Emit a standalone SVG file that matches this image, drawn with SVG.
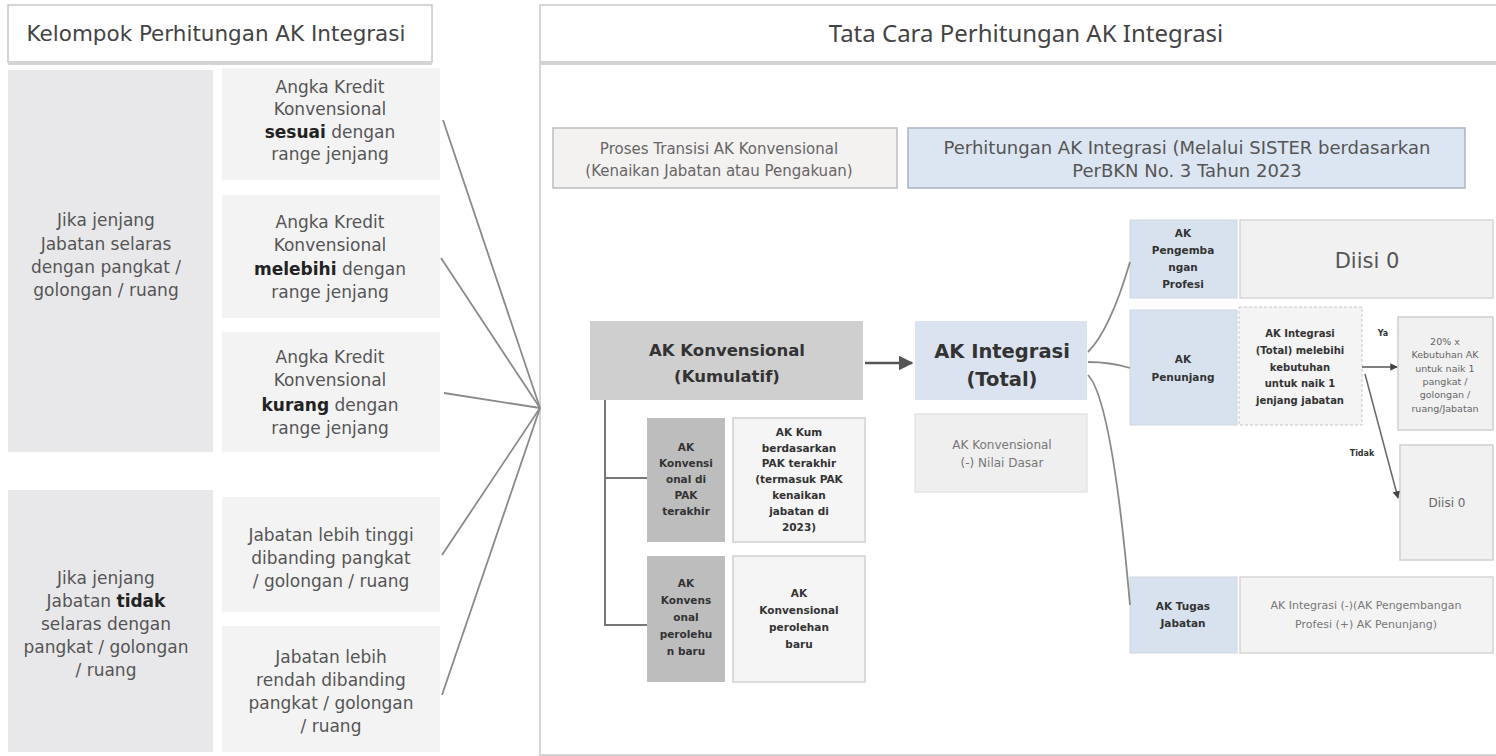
<svg xmlns="http://www.w3.org/2000/svg" width="1496" height="756" viewBox="0 0 1496 756">
<defs>
<style>
text{font-family:"DejaVu Sans","Liberation Sans",sans-serif;text-anchor:middle;fill:#555}
.hdr{font-size:21.5px;fill:#444}
.hdr2{font-family:"Noto Sans","Liberation Sans",sans-serif;font-size:24px;fill:#444}
.l1{font-size:17px;fill:#555}
.l2{font-size:17px;fill:#555}
.b{font-weight:bold;fill:#222}
.sm{font-size:10.5px;font-weight:bold;fill:#333}
.xs{font-size:9.5px;fill:#666}
.con{stroke:#8a8a8a;stroke-width:1.8;fill:none}
.con2{stroke:#777;stroke-width:2;fill:none}
</style>
<marker id="ah" viewBox="0 0 10 10" refX="9" refY="5" markerWidth="6" markerHeight="6" orient="auto"><path d="M0,0 L10,5 L0,10 z" fill="#555"/></marker>
<marker id="ahs" viewBox="0 0 10 10" refX="9" refY="5" markerWidth="5" markerHeight="5" orient="auto"><path d="M0,0 L10,5 L0,10 z" fill="#444"/></marker>
</defs>
<rect width="1496" height="756" fill="#ffffff"/>

<g id="hdr-left">
<rect x="8" y="5" width="424" height="57" fill="#fff" stroke="#c8c8c8" stroke-width="1.5"/>
<rect x="8" y="61" width="424" height="4" fill="#d4d4d4"/>
<text class="hdr" x="216" y="41">Kelompok Perhitungan AK Integrasi</text>
</g>

<g id="grp-selaras">
<rect x="8" y="70" width="205" height="382" fill="#e8e8ea"/>
<text class="l1" x="106" y="226">Jika jenjang</text>
<text class="l1" x="106" y="250">Jabatan selaras</text>
<text class="l1" x="106" y="273">dengan pangkat /</text>
<text class="l1" x="106" y="296">golongan / ruang</text>
</g>
<g id="grp-tidak">
<rect x="8" y="490" width="205" height="262" fill="#e8e8ea"/>
<text class="l1" x="106" y="584">Jika jenjang</text>
<text class="l1" x="106" y="607">Jabatan <tspan class="b">tidak</tspan></text>
<text class="l1" x="106" y="630">selaras dengan</text>
<text class="l1" x="106" y="653">pangkat / golongan</text>
<text class="l1" x="106" y="676">/ ruang</text>
</g>

<g id="c-sesuai">
<rect x="222" y="68" width="218" height="112" fill="#f3f3f3"/>
<text class="l2" x="330" y="93">Angka Kredit</text>
<text class="l2" x="330" y="115">Konvensional</text>
<text class="l2" x="330" y="138"><tspan class="b">sesuai</tspan> dengan</text>
<text class="l2" x="330" y="160">range jenjang</text>
</g>
<g id="c-melebihi">
<rect x="222" y="195" width="218" height="123" fill="#f3f3f3"/>
<text class="l2" x="330" y="228">Angka Kredit</text>
<text class="l2" x="330" y="251">Konvensional</text>
<text class="l2" x="330" y="275"><tspan class="b">melebihi</tspan> dengan</text>
<text class="l2" x="330" y="298">range jenjang</text>
</g>
<g id="c-kurang">
<rect x="222" y="332" width="218" height="120" fill="#f3f3f3"/>
<text class="l2" x="330" y="363">Angka Kredit</text>
<text class="l2" x="330" y="386">Konvensional</text>
<text class="l2" x="330" y="411"><tspan class="b">kurang</tspan> dengan</text>
<text class="l2" x="330" y="434">range jenjang</text>
</g>
<g id="c-tinggi">
<rect x="222" y="497" width="218" height="115" fill="#f3f3f3"/>
<text class="l2" x="331" y="541">Jabatan lebih tinggi</text>
<text class="l2" x="331" y="564">dibanding pangkat</text>
<text class="l2" x="331" y="587">/ golongan / ruang</text>
</g>
<g id="c-rendah">
<rect x="222" y="626" width="218" height="126" fill="#f3f3f3"/>
<text class="l2" x="331" y="663">Jabatan lebih</text>
<text class="l2" x="331" y="686">rendah dibanding</text>
<text class="l2" x="331" y="709">pangkat / golongan</text>
<text class="l2" x="331" y="732">/ ruang</text>
</g>

<g id="panel-right">
<rect x="540" y="5" width="960" height="750" fill="#fff" stroke="#c8c8c8" stroke-width="1.5"/>
<rect x="541" y="61" width="955" height="4" fill="#d4d4d4"/>
<text class="hdr2" x="1026" y="42">Tata Cara Perhitungan AK Integrasi</text>
</g>

<g id="transisi">
<rect x="553" y="128" width="344" height="60" fill="#f4f1f1" stroke="#bdbdbd" stroke-width="1.5"/>
<text x="719" y="154" style="font-size:15px;fill:#666">Proses Transisi AK Konvensional</text>
<text x="719" y="176" style="font-size:15px;fill:#666">(Kenaikan Jabatan atau Pengakuan)</text>
</g>
<g id="perhitungan">
<rect x="908" y="128" width="557" height="60" fill="#dce6f2" stroke="#aab4c0" stroke-width="1.5"/>
<text x="1187" y="154" style="font-size:18px;fill:#555">Perhitungan AK Integrasi (Melalui SISTER berdasarkan</text>
<text x="1187" y="177" style="font-size:18px;fill:#555">PerBKN No. 3 Tahun 2023</text>
</g>

<g id="ak-konv">
<rect x="590" y="321" width="273" height="79" fill="#cfcfcf"/>
<text x="727" y="356" style="font-size:16.5px;font-weight:bold;fill:#333">AK Konvensional</text>
<text x="727" y="382" style="font-size:16.5px;font-weight:bold;fill:#333">(Kumulatif)</text>
</g>
<g id="ak-int">
<rect x="915" y="321" width="172" height="79" fill="#dae3ef"/>
<text x="1002" y="358" style="font-size:19.5px;font-weight:bold;fill:#333">AK Integrasi</text>
<text x="1002" y="386" style="font-size:19.5px;font-weight:bold;fill:#333">(Total)</text>
</g>
<g id="ak-nilai">
<rect x="915" y="414" width="172" height="78" fill="#efefef" stroke="#dcdcdc"/>
<text x="1002" y="449" style="font-size:12px;fill:#777">AK Konvensional</text>
<text x="1002" y="467" style="font-size:12px;fill:#777">(-) Nilai Dasar</text>
</g>

<g id="sub1">
<rect x="647" y="418" width="78" height="124" fill="#bdbdbd"/>
<text class="sm" x="686" y="451">AK</text>
<text class="sm" x="686" y="467">Konvensi</text>
<text class="sm" x="686" y="483">onal di</text>
<text class="sm" x="686" y="499">PAK</text>
<text class="sm" x="686" y="515">terakhir</text>
<rect x="733" y="418" width="132" height="124" fill="#f5f5f5" stroke="#d0d0d0" stroke-width="1.5"/>
<text class="sm" x="799" y="436">AK Kum</text>
<text class="sm" x="799" y="452">berdasarkan</text>
<text class="sm" x="799" y="467">PAK terakhir</text>
<text class="sm" x="799" y="483">(termasuk PAK</text>
<text class="sm" x="799" y="499">kenaikan</text>
<text class="sm" x="799" y="515">jabatan di</text>
<text class="sm" x="799" y="531">2023)</text>
</g>
<g id="sub2">
<rect x="647" y="556" width="78" height="126" fill="#bdbdbd"/>
<text class="sm" x="686" y="587">AK</text>
<text class="sm" x="686" y="604">Konvens</text>
<text class="sm" x="686" y="621">onal</text>
<text class="sm" x="686" y="638">perolehu</text>
<text class="sm" x="686" y="655">n baru</text>
<rect x="733" y="556" width="132" height="126" fill="#f5f5f5" stroke="#d0d0d0" stroke-width="1.5"/>
<text class="sm" x="799" y="597">AK</text>
<text class="sm" x="799" y="614">Konvensional</text>
<text class="sm" x="799" y="631">perolehan</text>
<text class="sm" x="799" y="648">baru</text>
</g>

<g id="pengembangan">
<rect x="1130" y="220" width="107" height="78" fill="#d8e2ef" stroke="#cfd6df"/>
<text class="sm" x="1183" y="237">AK</text>
<text class="sm" x="1183" y="254">Pengemba</text>
<text class="sm" x="1183" y="271">ngan</text>
<text class="sm" x="1183" y="288">Profesi</text>
<rect x="1240" y="220" width="253" height="78" fill="#f1f1f1" stroke="#d6d6d6" stroke-width="1.5"/>
<text x="1367" y="268" style="font-size:21px;fill:#555">Diisi 0</text>
</g>
<g id="penunjang">
<rect x="1130" y="310" width="107" height="115" fill="#d8e2ef" stroke="#cfd6df"/>
<text class="sm" x="1183" y="363">AK</text>
<text class="sm" x="1183" y="381">Penunjang</text>
<rect x="1239" y="307" width="123" height="118" fill="#f4f4f4" stroke="#c8c8c8" stroke-dasharray="3 2"/>
<text class="sm" x="1300" y="337" style="font-size:10px">AK Integrasi</text>
<text class="sm" x="1300" y="354" style="font-size:10px">(Total) melebihi</text>
<text class="sm" x="1300" y="371" style="font-size:10px">kebutuhan</text>
<text class="sm" x="1300" y="387" style="font-size:10px">untuk naik 1</text>
<text class="sm" x="1300" y="404" style="font-size:10px">jenjang jabatan</text>
</g>
<g id="duapuluh">
<rect x="1398" y="317" width="95" height="113" fill="#f1f1f1" stroke="#d0d0d0" stroke-width="1.5"/>
<text class="xs" x="1445" y="345">20% x</text>
<text class="xs" x="1445" y="358">Kebutuhan AK</text>
<text class="xs" x="1445" y="372">untuk naik 1</text>
<text class="xs" x="1445" y="385">pangkat /</text>
<text class="xs" x="1445" y="398">golongan /</text>
<text class="xs" x="1445" y="412">ruang/Jabatan</text>
</g>
<g id="diisi2">
<rect x="1400" y="445" width="93" height="115" fill="#f1f1f1" stroke="#d0d0d0" stroke-width="1.5"/>
<text x="1447" y="507" style="font-size:12px;fill:#666">Diisi 0</text>
</g>
<g id="tugas">
<rect x="1130" y="577" width="107" height="76" fill="#d8e2ef" stroke="#cfd6df"/>
<text class="sm" x="1183" y="610">AK Tugas</text>
<text class="sm" x="1183" y="627">Jabatan</text>
<rect x="1240" y="577" width="253" height="76" fill="#f3f3f3" stroke="#d6d6d6" stroke-width="1.5"/>
<text x="1366" y="609" style="font-size:11px;fill:#777">AK Integrasi (-)(AK Pengembangan</text>
<text x="1366" y="628" style="font-size:11px;fill:#777">Profesi (+) AK Penunjang)</text>
</g>

<g id="connectors">
<line class="con" x1="443" y1="120" x2="540" y2="408"/>
<line class="con" x1="441" y1="258" x2="540" y2="408"/>
<line class="con" x1="444" y1="393" x2="540" y2="408"/>
<line class="con" x1="442" y1="555" x2="540" y2="408"/>
<line class="con" x1="442" y1="695" x2="540" y2="408"/>
<line x1="865" y1="363" x2="912" y2="363" stroke="#555" stroke-width="2.5" marker-end="url(#ah)"/>
<polyline class="con2" points="647,478 605,478 605,400"/>
<polyline class="con2" points="605,478 605,625 647,625"/>
<path class="con" d="M1088,352 Q1110,330 1130,262"/>
<path class="con" d="M1088,362 Q1110,362 1130,368"/>
<path class="con" d="M1088,375 Q1112,400 1130,605"/>
<line x1="1362" y1="367" x2="1397" y2="367" stroke="#555" stroke-width="1.5" marker-end="url(#ahs)"/>
<line x1="1365" y1="374" x2="1398" y2="498" stroke="#666" stroke-width="1.5" marker-end="url(#ahs)"/>
<text x="1383" y="336" style="font-size:8px;font-weight:bold;fill:#333">Ya</text>
<text x="1362" y="456" style="font-size:8px;font-weight:bold;fill:#333">Tidak</text>
</g>
</svg>
